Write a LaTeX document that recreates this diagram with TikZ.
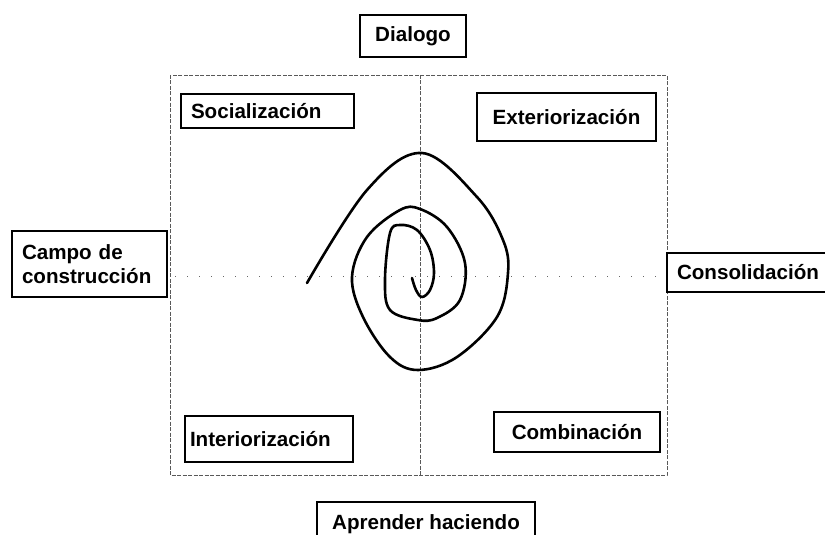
\documentclass[tikz,border=0pt]{standalone}
\usepackage{fontspec}
\setmainfont{Liberation Sans}

\begin{document}
\begin{tikzpicture}[x=1pt, y=-1pt,
    label box/.style={draw, line width=1.1pt, inner sep=0pt, font=\fontsize{20.6}{24.5}\selectfont\bfseries},
    frame line/.style={draw=black!65, line width=0.7pt, dash pattern=on 4pt off 1.5pt},
    axis line/.style={draw=black!60, line width=0.8pt, dash pattern=on 1pt off 11pt},
    spiral/.style={line width=2.6pt, line join=round, line cap=round}]
            \useasboundingbox (0,0) rectangle (825,535);

            % quadrants
            \draw[frame line] (170,75) rectangle (667,475);
            \draw[frame line] (420,75) -- (420,475);
            \draw[axis line] (175,276) -- (662,276);

            % outer labels
            \node[label box, minimum width=106pt, minimum height=42pt] (dialogo) at (413,36) {Dialogo};
            \node[label box, minimum width=218pt, minimum height=44pt] (aprender) at (426,524) {Aprender haciendo};
            \node[label box, minimum width=155pt, minimum height=66pt, text width=135pt, align=left] (campo) at (89.5,264) {Campo de\\construcción};
            \node[label box, minimum width=163pt, minimum height=39pt, text width=143pt, align=left] (consol) at (748.5,272.5) {Consolidación};

            % quadrant labels
            \node[label box, minimum width=173pt, minimum height=34pt, text width=153pt, align=left] (social) at (267.5,111) {Socialización};
            \node[label box, minimum width=179pt, minimum height=48pt] (exter) at (566.5,117) {Exteriorización};
            \node[label box, minimum width=168pt, minimum height=46pt, text width=158pt, align=left] (inter) at (269,439) {Interiorización};
            \node[label box, minimum width=166pt, minimum height=40pt] (combi) at (577,432) {Combinación};

            % spiral
            \draw[spiral] plot[smooth, tension=0.6] coordinates {
                (307,283) (367,190) (422,153) (477,197) (503,240) (508,273)
                (497,317) (457,357) (418,370) (390,357) (363,317) (352,277)
                (367,237) (400,210) (420,209) (447,227) (465,263) (460,300)
                (437,318) (418,320) (390,310) (385,280) (390,233) (400,225)
                (417,230) (430,250) (434,273) (430,290) (422,297) (416,290) (412,278)};

        \end{tikzpicture}
\end{document}
